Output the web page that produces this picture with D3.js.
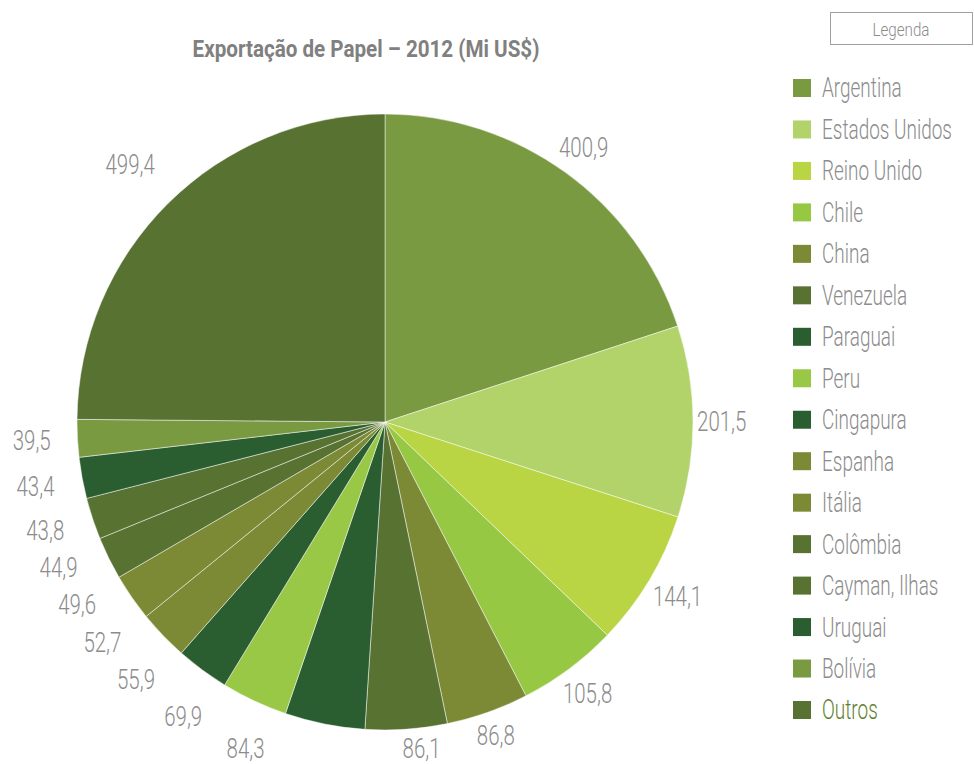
<!DOCTYPE html>
<html>
<head>
<meta charset="utf-8">
<script src="https://cdn.jsdelivr.net/npm/d3@7"></script>
<style>
  body { margin: 0; background: #fff; }
  text { font-family: Roboto, "DejaVu Sans Condensed", sans-serif; }
</style>
</head>
<body>
<script>
// data
const categories = ['Argentina', 'Estados Unidos', 'Reino Unido', 'Chile', 'China', 'Venezuela',
  'Paraguai', 'Peru', 'Cingapura', 'Espanha', 'Itália', 'Colômbia', 'Cayman, Ilhas',
  'Uruguai', 'Bolívia', 'Outros'];
const values = [400.9, 201.5, 144.1, 105.8, 86.8, 86.1, 84.3, 69.9, 55.9, 52.7, 49.6, 44.9,
  43.8, 43.4, 39.5, 499.4];
const colors = ['#7a9a42', '#b2d36a', '#bad543', '#97c844', '#7c8a36', '#587232', '#2a5e30',
  '#98c845', '#2a5e30', '#7c8a36', '#7c8a36', '#587232', '#587232', '#2a5e30', '#7a9a42', '#587232'];
const title = 'Exportação de Papel – 2012 (Mi US$)';

// constants
const width = 974;
const height = 764;
const cx = 385, cy = 422, radius = 308;
const fmt = (v) => v.toFixed(1).replace('.', ',');

const svg = d3.select('body').append('svg')
  .attr('width', width).attr('height', height);

// the reference uses a very narrow font, so texts are squeezed horizontally
function textWidth(str, size, weight) {
  const t = svg.append('text').attr('font-size', size).attr('font-weight', weight).text(str);
  const w = t.node().getComputedTextLength();
  t.remove();
  return w;
}
const titleScale = 347 / textWidth(title, 24, 'bold');
const labelScale = 38 / textWidth('39,5', 27, 300);
const legendScale = 130 / textWidth('Estados Unidos', 27, 300);
const legendaScale = 57 / textWidth('Legenda', 19, 300);

// title
svg.append('text')
  .attr('transform', `translate(366, 57) scale(${titleScale}, 1)`)
  .attr('text-anchor', 'middle')
  .attr('font-size', 24).attr('font-weight', 'bold')
  .attr('fill', '#808080')
  .text(title);

// pie
const pie = d3.pie().sort(null).value((d) => d);
const arcs = pie(values);
const arc = d3.arc().innerRadius(0).outerRadius(radius);

const g = svg.append('g').attr('transform', `translate(${cx}, ${cy})`);
g.selectAll('path').data(arcs).enter().append('path')
  .attr('d', arc)
  .attr('fill', (d, i) => colors[i])
  .attr('stroke', 'rgba(255,255,255,0.6)')
  .attr('stroke-width', 0.8);

// data labels
const labels = g.selectAll('text.lbl').data(arcs).enter().append('text')
  .attr('class', 'lbl')
  .attr('text-anchor', 'middle')
  .attr('dy', '0.35em')
  .attr('font-size', 27).attr('font-weight', 300)
  .attr('fill', '#8c8c8c')
  .text((d) => fmt(d.value));

const L = [];
labels.each(function (d) {
  L.push({ node: this, a: (d.startAngle + d.endAngle) / 2,
    w: this.getComputedTextLength() * labelScale, h: 20 });
});

function place(l) {
  const s = Math.sin(l.a), c = Math.cos(l.a);
  const ext = l.w / 2 * Math.abs(s) + 15 * Math.abs(c);
  const gap = s < 0 ? 26 : 4;
  const R = radius + gap + ext;
  return [R * s, -R * c];
}

// keep labels inside the chart and spread crowded ones along the circle
const step = 0.002;
for (let it = 0; it < 1500; it++) {
  let moved = false;
  L.forEach((l) => {
    const p = place(l);
    if (cy + p[1] > height - 15) {
      l.a += p[0] < 0 ? step : -step;
      moved = true;
    }
  });
  for (let i = 0; i < L.length - 1; i++) {
    const p = place(L[i]), q = place(L[i + 1]);
    if (Math.abs(p[0] - q[0]) < (L[i].w + L[i + 1].w) / 2 + 24 &&
        Math.abs(p[1] - q[1]) < (L[i].h + L[i + 1].h) / 2 + 17) {
      L[i].a -= step;
      L[i + 1].a += step;
      moved = true;
    }
  }
  if (!moved) break;
}

L.forEach((l) => {
  const p = place(l);
  d3.select(l.node).attr('transform', `translate(${p[0]}, ${p[1]}) scale(${labelScale}, 1)`);
});

// legend
const legX = 793;
const rowY = d3.scalePoint().domain(categories).range([88, 710]);

svg.append('rect')
  .attr('x', 830.5).attr('y', 12.5).attr('width', 142).attr('height', 32)
  .attr('fill', '#fff').attr('stroke', '#a0a0a0');
svg.append('text')
  .attr('transform', `translate(901, 29) scale(${legendaScale}, 1)`)
  .attr('text-anchor', 'middle').attr('dy', '0.35em')
  .attr('font-size', 19).attr('font-weight', 300).attr('fill', '#8c8c8c')
  .text('Legenda');

const items = svg.append('g').selectAll('g').data(categories).enter().append('g')
  .attr('transform', (d) => `translate(${legX}, ${rowY(d)})`);
items.append('rect')
  .attr('x', 0).attr('y', -9).attr('width', 18).attr('height', 18)
  .attr('fill', (d, i) => colors[i]);
items.append('text')
  .attr('transform', `translate(29, 0) scale(${legendScale}, 1)`)
  .attr('dy', '0.35em')
  .attr('font-size', 27).attr('font-weight', 300)
  .attr('fill', (d) => d === 'Outros' ? '#5f7f2e' : '#8c8c8c')
  .text((d) => d);
</script>
</body>
</html>
